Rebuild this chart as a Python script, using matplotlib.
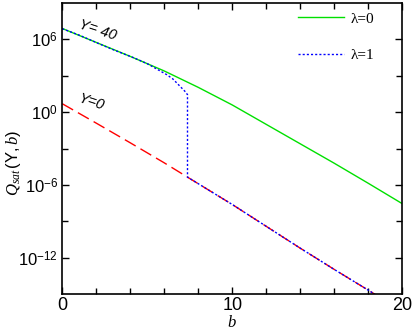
import numpy as np
import matplotlib
matplotlib.use("Agg")
import matplotlib.pyplot as plt
from matplotlib.ticker import MultipleLocator, FixedLocator, NullFormatter

# log10 of Q_sat
b_green = [0, 2, 4, 6, 8, 10, 12, 14, 16, 18, 20]
q_green = [6.9, 5.75, 4.6, 3.4, 2.05, 0.6, -1.0, -2.6, -4.2, -5.85, -7.53]

b_blue = [0, 1, 2.2, 3, 4.18, 5, 6.14, 6.5, 6.92, 7.2, 7.37, 7.37]
q_blue = [6.88, 6.35, 5.62, 5.15, 4.5, 4.0, 3.1, 2.75, 2.15, 1.75, 1.45, -5.35]

b_red = [0, 2, 4, 6, 7.37, 10, 12, 14, 16, 18.4]
q_red = [0.7, -0.9, -2.52, -4.17, -5.35, -7.6, -9.4, -11.2, -12.95, -15.0]

plt.rcParams['font.family'] = ['Liberation Sans', 'DejaVu Sans']
plt.rcParams['mathtext.fontset'] = 'custom'
plt.rcParams['mathtext.rm'] = 'Liberation Sans'
plt.rcParams['mathtext.it'] = 'Liberation Serif:italic'

fig = plt.figure(figsize=(4.15, 3.31), dpi=100)
ax = fig.add_axes([0.150, 0.111, 0.819, 0.880])

ax.plot(b_green, 10**np.array(q_green), color='#00e000', lw=1.0, label='λ=0')
ax.plot(b_red, 10**np.array(q_red), color='red', lw=1.0, dashes=(9, 4))
# blue follows the red line after the drop
b_blue_all = b_blue + [b for b in b_red if b > 7.37]
q_blue_all = q_blue + [q for b, q in zip(b_red, q_red) if b > 7.37]
ax.plot(b_blue_all, 10**np.array(q_blue_all), color='blue', lw=1.0,
        dashes=(1.5, 1.5), label='λ=1')

ax.set_yscale('log')
ax.set_xlim(0, 20)
ax.set_ylim(1e-15, 1e9)
ax.xaxis.set_major_locator(FixedLocator([0, 10, 20]))
ax.xaxis.set_minor_locator(MultipleLocator(2))
ax.yaxis.set_major_locator(FixedLocator([1e-12, 1e-6, 1e0, 1e6]))
ax.yaxis.set_minor_locator(FixedLocator([1e-9, 1e-3, 1e3]))
ax.yaxis.set_minor_formatter(NullFormatter())
ax.set_yticklabels([r'$10^{-12}$', r'$10^{-6}$', r'$10^{0}$', r'$10^{6}$'])
ax.tick_params(which='both', direction='in', top=True, right=True,
               labelsize=12, width=1)
ax.tick_params(which='major', length=5)
ax.tick_params(which='minor', length=4)
ax.tick_params(axis='x', pad=2, labelsize=13)
ax.tick_params(axis='y', pad=3)
for s in ax.spines.values():
    s.set_linewidth(1.2)

ax.set_xlabel('$b$', fontsize=12, labelpad=0)
ax.set_ylabel(r'$Q_{sat}\,(\mathrm{Y},b)$', fontsize=12)
ax.yaxis.set_label_coords(-0.115, 0.45)

ax.text(0.9, 10**6.95, 'Y= 40', fontsize=10.5, style='italic', rotation=-18,
        rotation_mode='anchor', ha='left', va='baseline')
ax.text(0.9, 10**0.8, 'Y=0', fontsize=10.5, style='italic', rotation=-18,
        rotation_mode='anchor', ha='left', va='baseline')

leg = ax.legend(loc='upper right', bbox_to_anchor=(0.935, 0.99), frameon=False,
                handlelength=3.0, labelspacing=1.5, borderaxespad=0,
                prop={'family': 'Liberation Serif', 'size': 11},
                handletextpad=0.4)

fig.savefig('out.png', dpi=100)
